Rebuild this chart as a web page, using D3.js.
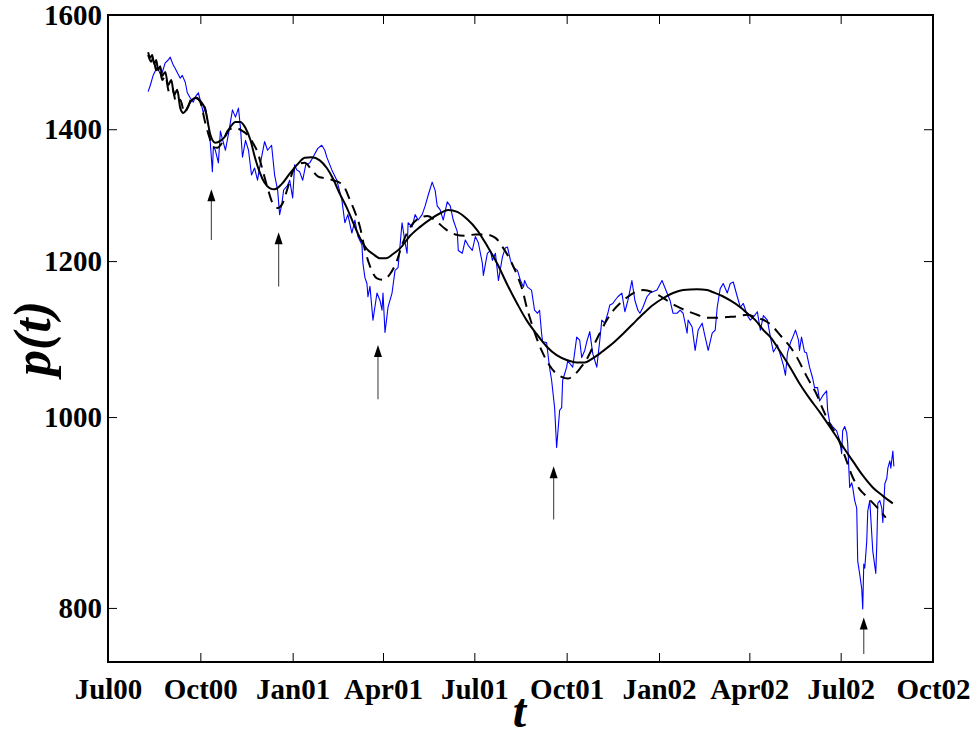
<!DOCTYPE html>
<html>
<head>
<meta charset="utf-8">
<script src="https://cdn.jsdelivr.net/npm/d3@7"></script>
<style>
  body { margin: 0; background: #fff; }
  svg { display: block; }
  text { font-family: "Liberation Serif", "Times New Roman", serif; font-weight: bold; fill: #000; }
</style>
</head>
<body>
<svg id="chart" width="975" height="738"></svg>
<script>
// Daily index level p(t), Aug 2000 - Aug 2002
const indexSeries = [
  ["2000-08-10",1463],["2000-08-12",1473],["2000-08-15",1491],["2000-08-19",1505],["2000-08-22",1494],["2000-08-24",1496],["2000-08-27",1513],["2000-08-30",1518],["2000-09-01",1523],["2000-09-04",1509],["2000-09-06",1503],["2000-09-08",1496],["2000-09-11",1486],["2000-09-13",1491],["2000-09-16",1479],["2000-09-18",1461],["2000-09-21",1452],["2000-09-24",1445],["2000-09-26",1454],["2000-09-29",1461],["2000-10-01",1448],["2000-10-04",1427],["2000-10-06",1437],["2000-10-09",1407],["2000-10-11",1377],["2000-10-13",1332],["2000-10-14",1372],["2000-10-16",1366],["2000-10-19",1346],["2000-10-21",1397],["2000-10-23",1384],["2000-10-26",1366],["2000-10-29",1392],["2000-11-02",1432],["2000-11-05",1420],["2000-11-08",1435],["2000-11-10",1402],["2000-11-12",1355],["2000-11-15",1382],["2000-11-18",1366],["2000-11-21",1327],["2000-11-24",1338],["2000-11-27",1319],["2000-11-29",1338],["2000-12-02",1363],["2000-12-04",1380],["2000-12-07",1366],["2000-12-11",1374],["2000-12-14",1327],["2000-12-17",1304],["2000-12-19",1267],["2000-12-21",1281],["2000-12-23",1304],["2000-12-27",1311],["2000-12-29",1319],
  ["2001-01-01",1292],["2001-01-03",1343],["2001-01-05",1335],["2001-01-08",1332],["2001-01-11",1319],["2001-01-14",1343],["2001-01-18",1346],["2001-01-21",1354],["2001-01-26",1369],["2001-01-30",1374],["2001-02-02",1366],["2001-02-04",1355],["2001-02-09",1335],["2001-02-14",1319],["2001-02-19",1289],["2001-02-22",1255],["2001-02-25",1267],["2001-03-01",1240],["2001-03-04",1259],["2001-03-07",1235],["2001-03-11",1223],["2001-03-12",1197],["2001-03-14",1177],["2001-03-16",1169],["2001-03-17",1151],["2001-03-19",1165],["2001-03-22",1120],["2001-03-26",1156],["2001-03-29",1146],["2001-03-31",1133],["2001-04-01",1156],["2001-04-03",1104],["2001-04-06",1137],["2001-04-10",1156],["2001-04-13",1187],["2001-04-16",1191],["2001-04-20",1255],["2001-04-23",1226],["2001-04-25",1211],["2001-04-26",1255],["2001-04-30",1249],["2001-05-03",1267],["2001-05-06",1259],["2001-05-10",1267],["2001-05-13",1280],["2001-05-16",1296],["2001-05-20",1316],["2001-05-23",1303],["2001-05-25",1280],["2001-05-28",1274],["2001-05-31",1259],["2001-06-04",1286],["2001-06-07",1280],["2001-06-10",1259],["2001-06-14",1242],["2001-06-15",1215],["2001-06-19",1211],["2001-06-22",1230],["2001-06-25",1222],["2001-06-29",1215],["2001-07-02",1235],["2001-07-05",1226],["2001-07-09",1197],["2001-07-10",1180],["2001-07-14",1211],["2001-07-17",1215],["2001-07-19",1201],["2001-07-22",1211],["2001-07-25",1173],["2001-07-29",1206],["2001-08-01",1219],["2001-08-03",1220],["2001-08-06",1201],["2001-08-09",1191],["2001-08-13",1187],["2001-08-16",1173],["2001-08-19",1164],["2001-08-20",1173],["2001-08-23",1164],["2001-08-27",1160],["2001-08-30",1133],["2001-09-02",1129],["2001-09-04",1133],["2001-09-06",1103],["2001-09-07",1092],["2001-09-11",1091],["2001-09-14",1059],["2001-09-16",1044],["2001-09-19",1011],["2001-09-21",965],["2001-09-24",1008],["2001-09-26",1011],["2001-09-27",1044],["2001-10-01",1060],["2001-10-02",1068],["2001-10-07",1060],["2001-10-11",1098],["2001-10-14",1094],["2001-10-16",1072],["2001-10-19",1081],["2001-10-21",1092],["2001-10-24",1105],["2001-10-27",1077],["2001-10-31",1060],["2001-11-03",1094],["2001-11-05",1120],["2001-11-08",1116],["2001-11-11",1129],["2001-11-13",1140],["2001-11-16",1142],["2001-11-18",1146],["2001-11-21",1151],["2001-11-25",1156],["2001-11-28",1131],["2001-12-01",1146],["2001-12-05",1173],["2001-12-08",1146],["2001-12-11",1133],["2001-12-13",1129],["2001-12-16",1137],["2001-12-20",1151],["2001-12-23",1156],["2001-12-30",1160],
  ["2002-01-04",1173],["2002-01-09",1156],["2002-01-12",1146],["2002-01-15",1129],["2002-01-19",1129],["2002-01-22",1133],["2002-01-25",1129],["2002-01-29",1103],["2002-01-30",1120],["2002-02-03",1111],["2002-02-06",1081],["2002-02-09",1107],["2002-02-13",1116],["2002-02-16",1098],["2002-02-19",1081],["2002-02-23",1103],["2002-02-26",1107],["2002-02-28",1137],["2002-03-03",1162],["2002-03-06",1169],["2002-03-10",1156],["2002-03-13",1169],["2002-03-16",1171],["2002-03-20",1151],["2002-03-23",1137],["2002-03-26",1142],["2002-03-30",1126],["2002-04-02",1120],["2002-04-05",1124],["2002-04-09",1131],["2002-04-12",1107],["2002-04-15",1126],["2002-04-19",1120],["2002-04-22",1098],["2002-04-25",1079],["2002-04-29",1088],["2002-05-02",1075],["2002-05-05",1062],["2002-05-07",1050],["2002-05-09",1078],["2002-05-12",1091],["2002-05-14",1097],["2002-05-17",1107],["2002-05-20",1094],["2002-05-21",1081],["2002-05-23",1098],["2002-05-26",1079],["2002-05-28",1078],["2002-05-31",1060],["2002-06-03",1047],["2002-06-05",1035],["2002-06-08",1035],["2002-06-10",1019],["2002-06-13",1025],["2002-06-17",1031],["2002-06-18",1008],["2002-06-20",994],["2002-06-23",989],["2002-06-27",984],["2002-06-30",973],["2002-07-02",958],["2002-07-03",984],["2002-07-05",989],["2002-07-07",982],["2002-07-08",970],["2002-07-10",921],["2002-07-12",926],["2002-07-13",921],["2002-07-15",907],["2002-07-17",899],["2002-07-18",845],["2002-07-20",832],["2002-07-22",818],["2002-07-23",799],["2002-07-24",842],["2002-07-25",838],["2002-07-27",865],["2002-07-28",896],["2002-07-30",907],["2002-08-01",872],["2002-08-02",855],["2002-08-05",833],["2002-08-06",862],["2002-08-07",904],["2002-08-09",907],["2002-08-11",899],["2002-08-12",884],["2002-08-14",925],["2002-08-16",931],["2002-08-17",942],["2002-08-19",950],["2002-08-20",942],["2002-08-22",961],["2002-08-23",944]
];

// First log-periodic fit (solid)
const fitSolid = [
  ["2000-08-10",1532],["2000-08-12",1522],["2000-08-14",1527],["2000-08-16",1511],["2000-08-18",1518],["2000-08-20",1500],["2000-08-22",1507],["2000-08-24",1490],["2000-08-27",1497],["2000-08-30",1474],["2000-09-02",1483],["2000-09-05",1457],["2000-09-08",1466],["2000-09-11",1435],["2000-09-14",1427],["2000-09-17",1432],["2000-09-21",1445],["2000-09-26",1452],["2000-10-01",1447],["2000-10-06",1432],["2000-10-11",1391],["2000-10-16",1378],["2000-10-21",1381],["2000-10-26",1389],["2000-10-31",1404],["2000-11-05",1412],["2000-11-10",1412],["2000-11-15",1402],["2000-11-20",1382],["2000-11-24",1357],["2000-11-29",1332],["2000-12-04",1315],["2000-12-09",1307],["2000-12-14",1305],["2000-12-21",1313],["2000-12-29",1329],
  ["2001-01-06",1344],["2001-01-13",1354],["2001-01-20",1355],["2001-01-28",1350],["2001-02-04",1338],["2001-02-10",1322],["2001-02-17",1298],["2001-02-24",1277],["2001-03-02",1256],["2001-03-09",1233],["2001-03-16",1217],["2001-03-22",1210],["2001-03-29",1204],["2001-04-04",1204],["2001-04-11",1210],["2001-04-18",1218],["2001-04-28",1236],["2001-05-08",1249],["2001-05-18",1260],["2001-05-28",1269],["2001-06-05",1274],["2001-06-14",1271],["2001-06-24",1260],["2001-07-04",1244],["2001-07-14",1221],["2001-07-24",1196],["2001-08-03",1167],["2001-08-13",1141],["2001-08-22",1120],["2001-09-01",1102],["2001-09-11",1086],["2001-09-21",1075],["2001-10-01",1069],["2001-10-11",1066],["2001-10-19",1066],["2001-10-27",1071],["2001-11-06",1080],["2001-11-16",1090],["2001-11-26",1102],["2001-12-06",1115],["2001-12-16",1128],["2001-12-26",1140],
  ["2002-01-05",1149],["2002-01-15",1156],["2002-01-25",1160],["2002-02-08",1161],["2002-02-18",1160],["2002-02-24",1157],["2002-03-05",1152],["2002-03-13",1146],["2002-03-23",1137],["2002-03-30",1129],["2002-04-07",1120],["2002-04-15",1107],["2002-04-22",1098],["2002-05-02",1079],["2002-05-12",1059],["2002-05-21",1040],["2002-05-31",1022],["2002-06-10",1006],["2002-06-20",989],["2002-06-27",977],["2002-07-05",963],["2002-07-13",950],["2002-07-23",934],["2002-08-02",921],["2002-08-12",912],["2002-08-22",904]
];

// Second log-periodic fit (dashed)
const fitDashed = [
  ["2000-08-10",1527],["2000-08-13",1515],["2000-08-15",1522],["2000-08-18",1500],["2000-08-21",1507],["2000-08-24",1483],["2000-08-27",1490],["2000-08-31",1462],["2000-09-03",1469],["2000-09-07",1444],["2000-09-11",1449],["2000-09-15",1428],["2000-09-19",1438],["2000-09-23",1454],["2000-09-28",1452],["2000-10-01",1445],["2000-10-06",1410],["2000-10-11",1382],["2000-10-14",1371],["2000-10-18",1370],["2000-10-23",1379],["2000-10-29",1399],["2000-11-05",1402],["2000-11-12",1397],["2000-11-18",1389],["2000-11-22",1379],["2000-11-27",1363],["2000-12-02",1335],["2000-12-07",1307],["2000-12-12",1284],["2000-12-17",1277],["2000-12-22",1284],["2000-12-27",1307],
  ["2001-01-01",1332],["2001-01-06",1344],["2001-01-13",1346],["2001-01-20",1335],["2001-01-26",1325],["2001-02-02",1322],["2001-02-10",1319],["2001-02-17",1315],["2001-02-22",1307],["2001-02-27",1289],["2001-03-04",1271],["2001-03-09",1249],["2001-03-14",1216],["2001-03-19",1193],["2001-03-26",1176],["2001-04-01",1174],["2001-04-08",1182],["2001-04-15",1201],["2001-04-20",1223],["2001-04-26",1243],["2001-05-05",1260],["2001-05-15",1265],["2001-05-25",1256],["2001-06-02",1246],["2001-06-12",1238],["2001-06-22",1236],["2001-07-02",1238],["2001-07-12",1238],["2001-07-22",1233],["2001-07-30",1218],["2001-08-06",1201],["2001-08-13",1179],["2001-08-18",1160],["2001-08-22",1138],["2001-08-27",1116],["2001-09-01",1097],["2001-09-06",1081],["2001-09-12",1066],["2001-09-19",1054],["2001-09-26",1048],["2001-10-02",1046],["2001-10-09",1051],["2001-10-14",1058],["2001-10-21",1070],["2001-10-27",1085],["2001-11-03",1103],["2001-11-10",1120],["2001-11-16",1132],["2001-11-23",1142],["2001-11-30",1150],["2001-12-08",1157],["2001-12-16",1160],["2001-12-26",1157],
  ["2002-01-02",1152],["2002-01-09",1146],["2002-01-19",1138],["2002-01-29",1132],["2002-02-08",1127],["2002-02-18",1123],["2002-02-28",1123],["2002-03-10",1124],["2002-03-20",1125],["2002-03-30",1127],["2002-04-09",1123],["2002-04-17",1119],["2002-04-24",1112],["2002-05-02",1100],["2002-05-12",1085],["2002-05-19",1071],["2002-05-28",1049],["2002-06-07",1027],["2002-06-13",1010],["2002-06-20",992],["2002-06-27",979],["2002-07-05",956],["2002-07-13",932],["2002-07-20",919],["2002-07-27",911],["2002-08-06",900],["2002-08-15",889]
];

// Arrows marking the sharp drops: date, tail level, tip level
const arrowDates = ["2000-10-12", "2000-12-18", "2001-03-27", "2001-09-18", "2002-07-24"];
const arrowTails = [1230, 1165, 1021, 887, 758];
const arrowTips  = [1305, 1241, 1088, 944, 791];

// Axis ticks
const yTicks = [800, 1000, 1200, 1400, 1600];
const xTickDates = ["2000-07-01","2000-10-01","2001-01-01","2001-04-01","2001-07-01","2001-10-01","2002-01-01","2002-04-01","2002-07-01","2002-10-01"];
const xTickLabels = ["Jul00","Oct00","Jan01","Apr01","Jul01","Oct01","Jan02","Apr02","Jul02","Oct02"];

const parse = d3.utcParse("%Y-%m-%d");
const svg = d3.select("#chart");
const margin = { left: 108, right: 42, top: 15, bottom: 76 };
const W = 975, H = 738;
const x = d3.scaleUtc()
  .domain([parse("2000-07-01"), parse("2002-10-01")])
  .range([margin.left, W - margin.right]);
const y = d3.scaleLog()
  .domain([751, 1600])
  .range([H - margin.bottom, margin.top]);

const toPts = s => s.map(([d, v]) => ({ t: parse(d), v }));
const line = d3.line().x(d => x(d.t)).y(d => y(d.v));

// index
svg.append("path")
  .datum(toPts(indexSeries))
  .attr("d", line)
  .attr("fill", "none")
  .attr("stroke", "#0000ff")
  .attr("stroke-width", 1.1)
  .attr("stroke-linejoin", "round");

// dashed fit
svg.append("path")
  .datum(toPts(fitDashed))
  .attr("d", line.curve(d3.curveMonotoneX))
  .attr("fill", "none")
  .attr("stroke", "#000")
  .attr("stroke-width", 2)
  .attr("stroke-dasharray", "11,7");

// solid fit
svg.append("path")
  .datum(toPts(fitSolid))
  .attr("d", line.curve(d3.curveMonotoneX))
  .attr("fill", "none")
  .attr("stroke", "#000")
  .attr("stroke-width", 2);

// arrows
const arrows = svg.append("g");
arrowDates.forEach((d, i) => {
  const ax = x(parse(d));
  const yTail = y(arrowTails[i]);
  const yTip = y(arrowTips[i]);
  arrows.append("line")
    .attr("x1", ax).attr("x2", ax)
    .attr("y1", yTail).attr("y2", yTip + 10)
    .attr("stroke", "#555").attr("stroke-width", 1.2);
  arrows.append("path")
    .attr("d", `M${ax},${yTip} L${ax - 4},${yTip + 12} L${ax + 4},${yTip + 12} Z`)
    .attr("fill", "#000");
});

// frame
const x0 = margin.left, x1 = W - margin.right, y0 = margin.top, y1 = H - margin.bottom;
svg.append("rect")
  .attr("x", x0).attr("y", y0)
  .attr("width", x1 - x0).attr("height", y1 - y0)
  .attr("fill", "none").attr("stroke", "#000").attr("stroke-width", 2);

const tickLen = 9;
const xTicks = xTickDates.map(parse);

// bottom axis (ticks point inward)
const gx = svg.append("g").attr("transform", `translate(0,${y1})`)
  .call(d3.axisBottom(x).tickValues(xTicks).tickSize(-tickLen).tickPadding(16)
    .tickFormat((d, i) => xTickLabels[i]));
gx.select(".domain").remove();
gx.selectAll("line").attr("stroke", "#000").attr("stroke-width", 1);
gx.selectAll("text").attr("font-size", 29).attr("font-family", "Liberation Serif").attr("font-weight", "bold");

// top ticks
svg.append("g").attr("transform", `translate(0,${y0})`)
  .call(d3.axisTop(x).tickValues(xTicks).tickSize(-tickLen).tickFormat(""))
  .call(g => g.select(".domain").remove())
  .selectAll("line").attr("stroke", "#000");

// left axis
const gy = svg.append("g").attr("transform", `translate(${x0},0)`)
  .call(d3.axisLeft(y).tickValues(yTicks).tickSize(-tickLen).tickPadding(6)
    .tickFormat(d3.format("d")));
gy.select(".domain").remove();
gy.selectAll("line").attr("stroke", "#000");
gy.selectAll("text").attr("font-size", 29).attr("font-family", "Liberation Serif").attr("font-weight", "bold");

// right ticks
svg.append("g").attr("transform", `translate(${x1},0)`)
  .call(d3.axisRight(y).tickValues(yTicks).tickSize(-tickLen).tickFormat(""))
  .call(g => g.select(".domain").remove())
  .selectAll("line").attr("stroke", "#000");

// axis titles
svg.append("text")
  .attr("x", (x0 + x1) / 2 - 1).attr("y", 727)
  .attr("text-anchor", "middle")
  .attr("font-size", 48).attr("font-style", "italic")
  .text("t");

svg.append("text")
  .attr("transform", `translate(50,${(y0 + y1) / 2}) rotate(-90)`)
  .attr("text-anchor", "middle")
  .attr("font-size", 52).attr("font-style", "italic")
  .text("p(t)");
</script>
</body>
</html>
